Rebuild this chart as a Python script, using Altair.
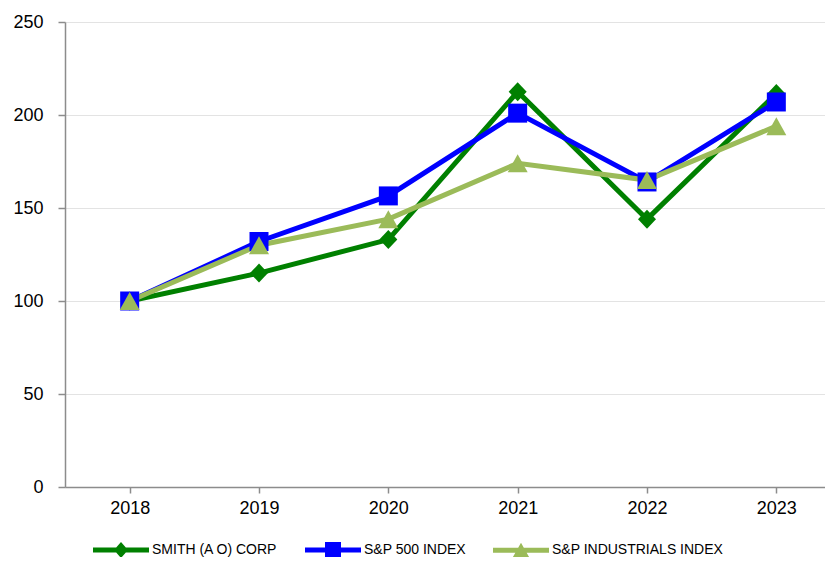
import altair as alt
import pandas as pd

years = ["2018", "2019", "2020", "2021", "2022", "2023"]
series_names = ["SMITH (A O) CORP", "S&P 500 INDEX", "S&P INDUSTRIALS INDEX"]
smith = [100, 115, 133, 212.5, 144, 211.5]
sp500 = [100, 132, 156.5, 201, 164, 207]
industrials = [100, 130, 144, 174, 165, 194]
colors = ["#008000", "#0000ff", "#9bbb59"]

rows = []
for name, vals in zip(series_names, [smith, sp500, industrials]):
    for y, v in zip(years, vals):
        rows.append({"year": y, "value": v, "series": name})
df = pd.DataFrame(rows)

# marker shapes (unit square -1..1)
diamond = "M0,-0.95L0.9,0L0,0.95L-0.9,0Z"
square = "M-0.95,-0.95L0.95,-0.95L0.95,0.95L-0.95,0.95Z"
triangle = "M0,-0.9L1,0.9L-1,0.9Z"
shapes = [diamond, square, triangle]

# legend symbols: line segment + marker
bar = "M-2.8,-0.25L2.8,-0.25L2.8,0.25L-2.8,0.25Z "
leg_paths = [
    bar + "M0,-0.8L0.7,0L0,0.8L-0.7,0Z",
    bar + "M-0.8,-0.8L0.8,-0.8L0.8,0.8L-0.8,0.8Z",
    bar + "M0,-0.75L0.85,0.75L-0.85,0.75Z",
]

font = "Liberation Sans"

x_enc = alt.X("year:O", sort=years,
              scale=alt.Scale(type="point", padding=0.5, range=[0, 776]),
              axis=alt.Axis(title=None, labelAngle=0, grid=False, labelFontSize=18,
                            labelFont=font, labelColor="#000", domainColor="#8c8c8c",
                            tickColor="#8c8c8c", domainWidth=1.5, tickWidth=1.5,
                            tickSize=6, labelPadding=6))
y_enc = alt.Y("value:Q", scale=alt.Scale(domain=[0, 250], nice=False),
              axis=alt.Axis(title=None, values=[0, 50, 100, 150, 200, 250],
                            labelFontSize=18, labelFont=font, labelColor="#000",
                            domainColor="#8c8c8c", tickColor="#8c8c8c",
                            domainWidth=1.5, tickWidth=1.5, tickSize=7,
                            labelPadding=15, gridColor="#e3e3e3", gridWidth=1))
color_scale = alt.Scale(domain=series_names, range=colors)

lines = alt.Chart(df).mark_line(strokeWidth=5).encode(
    x=x_enc, y=y_enc,
    color=alt.Color("series:N", scale=color_scale, legend=None),
    detail="series:N",
)

points = alt.Chart(df).mark_point(filled=True, size=400, opacity=1).encode(
    x=x_enc, y=y_enc,
    color=alt.Color("series:N", scale=color_scale, legend=None),
    shape=alt.Shape("series:N", scale=alt.Scale(domain=series_names, range=shapes),
                    legend=None),
)

leg_kw = dict(title=None, orient="none", direction="horizontal",
              legendX=46, legendY=518, padding=0,
              labelFontSize=14, labelFont=font, labelColor="#000", labelLimit=300,
              columnPadding=27, labelOffset=21, symbolSize=400,
              symbolStrokeWidth=0, symbolOpacity=1)

legend_layer = alt.Chart(df).mark_point(filled=True, size=400, opacity=1).encode(
    x=x_enc, y=y_enc,
    fill=alt.Fill("series:N", scale=alt.Scale(domain=series_names, range=colors),
                  legend=alt.Legend(**leg_kw)),
    shape=alt.Shape("series:N", scale=alt.Scale(domain=series_names, range=leg_paths),
                    legend=alt.Legend(**leg_kw)),
).transform_filter("false")

chart = alt.layer(lines, points, legend_layer).resolve_scale(
    shape="independent", fill="independent"
).properties(
    width=760, height=465,
    autosize=alt.AutoSizeParams(type="none"),
    padding={"left": 57, "top": 14, "right": 0, "bottom": 70},
).configure_view(stroke=None)

chart.save("out.html", embed_options={"renderer": "svg", "actions": False})
